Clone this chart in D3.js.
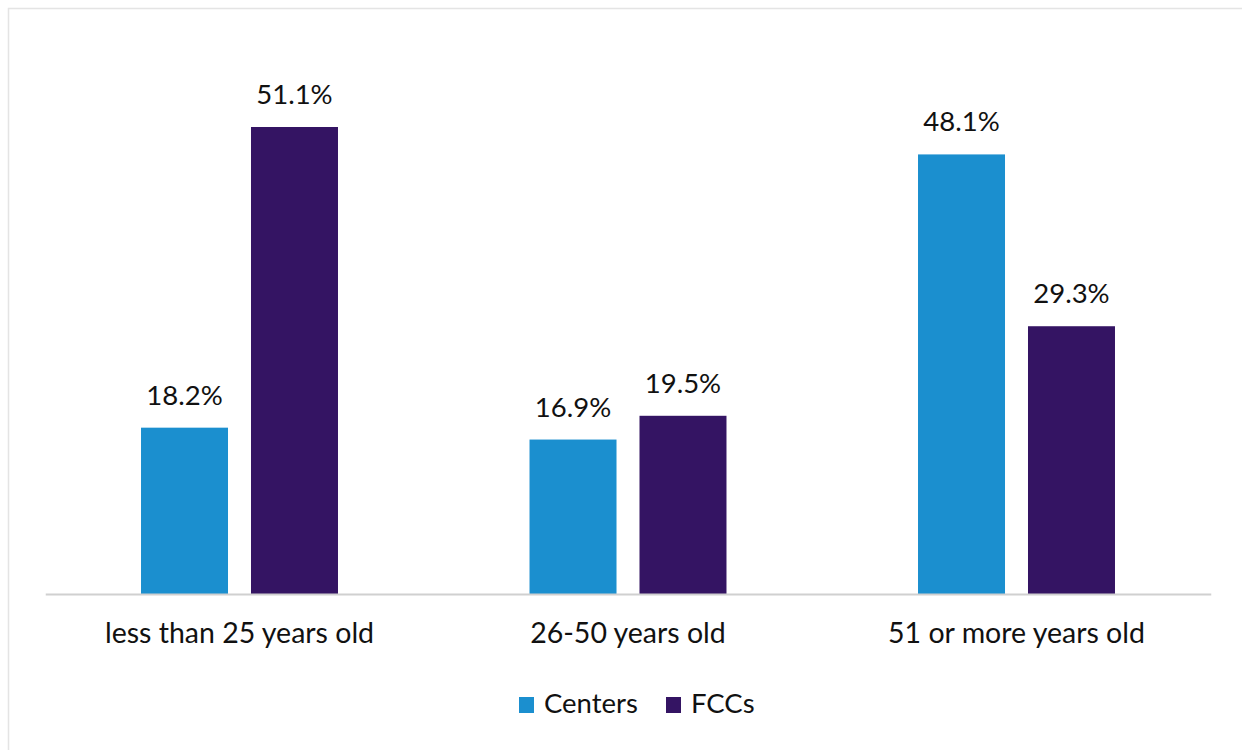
<!DOCTYPE html>
<html>
<head>
<meta charset="utf-8">
<script src="https://cdn.jsdelivr.net/npm/d3@7"></script>
<style>
  html, body { margin: 0; padding: 0; background: #ffffff; }
  svg { display: block; }
  text { font-family: Lato, "Open Sans", sans-serif; fill: #111; }
</style>
</head>
<body>
<svg id="chart" width="1242" height="750"></svg>
<script>
// Age groups and share of providers (%) for each setting
const categories = ["less than 25 years old", "26-50 years old", "51 or more years old"];
const seriesNames = ["Centers", "FCCs"];
const centersValues = [18.2, 16.9, 48.1];
const fccsValues = [51.1, 19.5, 29.3];
const seriesColors = ["#1b8fcf", "#341463"];

const svg = d3.select("#chart");
const W = 1242, H = 750;

// light frame around the chart area
svg.append("rect")
  .attr("x", 8.5).attr("y", 8.5)
  .attr("width", W + 10).attr("height", H + 10)
  .attr("fill", "none").attr("stroke", "#e4e4e4").attr("stroke-width", 1.5);

const plot = { left: 45.25, right: 1210.75, top: 60, bottom: 594 };

const x0 = d3.scaleBand()
  .domain(categories)
  .range([plot.left, plot.right])
  .paddingInner(0.493)
  .paddingOuter(0.2465);

const x1 = d3.scaleBand()
  .domain(seriesNames)
  .range([0, x0.bandwidth()])
  .paddingInner(0.209)
  .paddingOuter(0);

const y = d3.scaleLinear()
  .domain([0, 51.1])
  .range([plot.bottom, 127]);

const seriesValues = { "Centers": centersValues, "FCCs": fccsValues };

const rows = categories.map((c, i) => ({
  category: c,
  values: seriesNames.map((s, j) => ({ series: s, value: seriesValues[s][i], color: seriesColors[j] }))
}));

const groups = svg.append("g").selectAll("g")
  .data(rows)
  .join("g")
  .attr("transform", d => `translate(${x0(d.category)},0)`);

groups.selectAll("rect")
  .data(d => d.values)
  .join("rect")
  .attr("x", d => x1(d.series))
  .attr("y", d => y(d.value))
  .attr("width", x1.bandwidth())
  .attr("height", d => y(0) - y(d.value))
  .attr("fill", d => d.color);

groups.selectAll("text.value")
  .data(d => d.values)
  .join("text")
  .attr("class", "value")
  .attr("x", d => x1(d.series) + x1.bandwidth() / 2)
  .attr("y", d => y(d.value) - 23)
  .attr("text-anchor", "middle")
  .style("font-size", "27.5px")
  .text(d => d.value.toFixed(1) + "%");

// baseline axis
const xAxis = svg.append("g")
  .attr("transform", `translate(0,${plot.bottom})`)
  .call(d3.axisBottom(x0).tickSize(0).tickPadding(29));
xAxis.select(".domain").attr("stroke", "#d0d0d0").attr("stroke-width", 2);
xAxis.selectAll(".tick text")
  .style("font-size", "28.5px")
  .style("font-family", "Lato, 'Open Sans', sans-serif")
  .attr("fill", "#111");

// legend
const legendItems = [
  { name: "Centers", color: seriesColors[0], x: 519 },
  { name: "FCCs", color: seriesColors[1], x: 666 }
];
const legend = svg.append("g");
legendItems.forEach(it => {
  legend.append("rect")
    .attr("x", it.x).attr("y", 697)
    .attr("width", 15).attr("height", 16)
    .attr("fill", it.color);
  legend.append("text")
    .attr("x", it.x + 25).attr("y", 713)
    .style("font-size", "27.5px")
    .text(it.name);
});
</script>
</body>
</html>
